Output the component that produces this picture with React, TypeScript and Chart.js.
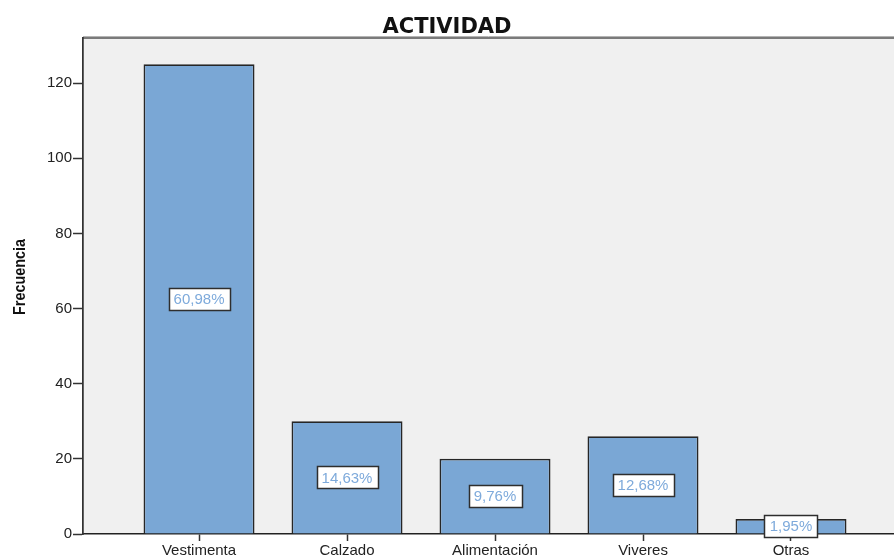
import React, { useEffect, useRef } from "react";
import { Chart, registerables } from "chart.js";

Chart.register(...registerables);

const chartTitle = "ACTIVIDAD";
const yAxisTitle = "Frecuencia";
const categories = ["Vestimenta", "Calzado", "Alimentación", "Viveres", "Otras"];
const frequencies = [125, 30, 20, 26, 4];
const percentLabels = ["60,98%", "14,63%", "9,76%", "12,68%", "1,95%"];

const W = 894;
const H = 558;

const plotBgPlugin = {
  id: "plotBg",
  beforeDraw(chart: any) {
    const { ctx, chartArea } = chart;
    ctx.save();
    ctx.fillStyle = "#f0f0f0";
    ctx.fillRect(chartArea.left, chartArea.top, chartArea.right - chartArea.left, chartArea.bottom - chartArea.top);
    ctx.strokeStyle = "#b4b4b4";
    ctx.lineWidth = 1;
    ctx.beginPath();
    ctx.moveTo(chartArea.left, chartArea.top - 1.5);
    ctx.lineTo(chartArea.right, chartArea.top - 1.5);
    ctx.stroke();
    ctx.strokeStyle = "#7a7a7a";
    ctx.lineWidth = 2;
    ctx.beginPath();
    ctx.moveTo(chartArea.left, chartArea.top);
    ctx.lineTo(chartArea.right, chartArea.top);
    ctx.stroke();
    ctx.restore();
  },
  afterDraw(chart: any) {
    const { ctx, chartArea } = chart;
    ctx.save();
    ctx.font = "bold 17px 'Liberation Sans', Arial, sans-serif";
    const w = ctx.measureText(yAxisTitle).width;
    const target = 76;
    ctx.translate(20, (chartArea.top + chartArea.bottom) / 2 - 9);
    ctx.rotate(-Math.PI / 2);
    ctx.scale(target / w, 1);
    ctx.fillStyle = "#111";
    ctx.textAlign = "center";
    ctx.textBaseline = "middle";
    ctx.fillText(yAxisTitle, 0, 0);
    ctx.restore();
  },
};

const percentLabelPlugin = {
  id: "percentLabels",
  afterDatasetsDraw(chart: any) {
    const { ctx } = chart;
    const meta = chart.getDatasetMeta(0);
    ctx.save();
    ctx.font = "15px 'Liberation Sans', Arial, sans-serif";
    ctx.textAlign = "center";
    ctx.textBaseline = "middle";
    meta.data.forEach((el: any, i: number) => {
      const text = percentLabels[i];
      const cx = el.x;
      const cy = (el.y + el.base) / 2;
      const tw = ctx.measureText(text).width;
      const bw = Math.round(tw + 10);
      const bh = 22;
      const x0 = Math.round(cx - bw / 2) + 0.5;
      const y0 = Math.round(cy - bh / 2) + 0.5;
      ctx.fillStyle = "#ffffff";
      ctx.fillRect(x0, y0, bw, bh);
      ctx.strokeStyle = "#2e2e2e";
      ctx.lineWidth = 1.5;
      ctx.strokeRect(x0, y0, bw, bh);
      ctx.fillStyle = "#7eaadb";
      ctx.fillText(text, cx, cy + 1);
    });
    ctx.restore();
  },
};

export default function App() {
  const canvasRef = useRef<HTMLCanvasElement | null>(null);

  useEffect(() => {
    if (!canvasRef.current) return;
    const chart = new Chart(canvasRef.current, {
      type: "bar",
      data: {
        datasets: [
          {
            data: categories.map((c, i) => ({ x: i, y: frequencies[i] })),
            backgroundColor: "#7aa7d5",
            borderColor: "#262626",
            borderWidth: 1.75,
            categoryPercentage: 1,
            barPercentage: 0.75,
          },
        ],
      },
      options: {
        animation: false,
        responsive: false,
        layout: { padding: 0 },
        plugins: {
          legend: { display: false },
          tooltip: { enabled: false },
          title: {
            display: true,
            text: chartTitle,
            color: "#111",
            font: { family: "'DejaVu Sans', sans-serif", size: 21, weight: "bold", lineHeight: 1.0 },
            padding: { top: 17, bottom: 0 },
          },
        },
        scales: {
          x: {
            type: "linear",
            offset: false,
            min: -0.784,
            max: 4.696,
            afterFit(scale: any) {
              scale.height = 24;
            },
            grid: {
              offset: false,
              drawOnChartArea: false,
              drawTicks: true,
              tickLength: 7,
              tickColor: "#333",
              tickWidth: 1.5,
            },
            border: { display: true, color: "#222", width: 1.5 },
            ticks: {
              stepSize: 1,
              includeBounds: false,
              autoSkip: false,
              maxRotation: 0,
              padding: 1,
              color: "#222",
              font: { family: "'Liberation Sans', Arial, sans-serif", size: 15 },
              callback: (v: any) => {
                const n = Number(v);
                return Number.isInteger(n) && n >= 0 && n < categories.length ? categories[n] : "";
              },
            },
          },
          y: {
            min: 0,
            max: 132,
            afterFit(scale: any) {
              scale.width = 83;
            },
            grid: {
              drawOnChartArea: false,
              drawTicks: true,
              tickLength: 10,
              tickColor: "#333",
              tickWidth: 1.5,
            },
            border: { display: true, color: "#333", width: 1.75 },
            ticks: {
              stepSize: 20,
              includeBounds: false,
              padding: 1,
              color: "#222",
              font: { family: "'Liberation Sans', Arial, sans-serif", size: 15 },
            },
          },
        },
      },
      plugins: [plotBgPlugin, percentLabelPlugin],
    });
    return () => chart.destroy();
  }, []);

  return (
    <div style={{ position: "fixed", left: 0, top: 0, width: W, height: H, background: "#fff", overflow: "hidden" }}>
      <canvas ref={canvasRef} width={W} height={H} style={{ display: "block", width: W, height: H }} />
    </div>
  );
}
